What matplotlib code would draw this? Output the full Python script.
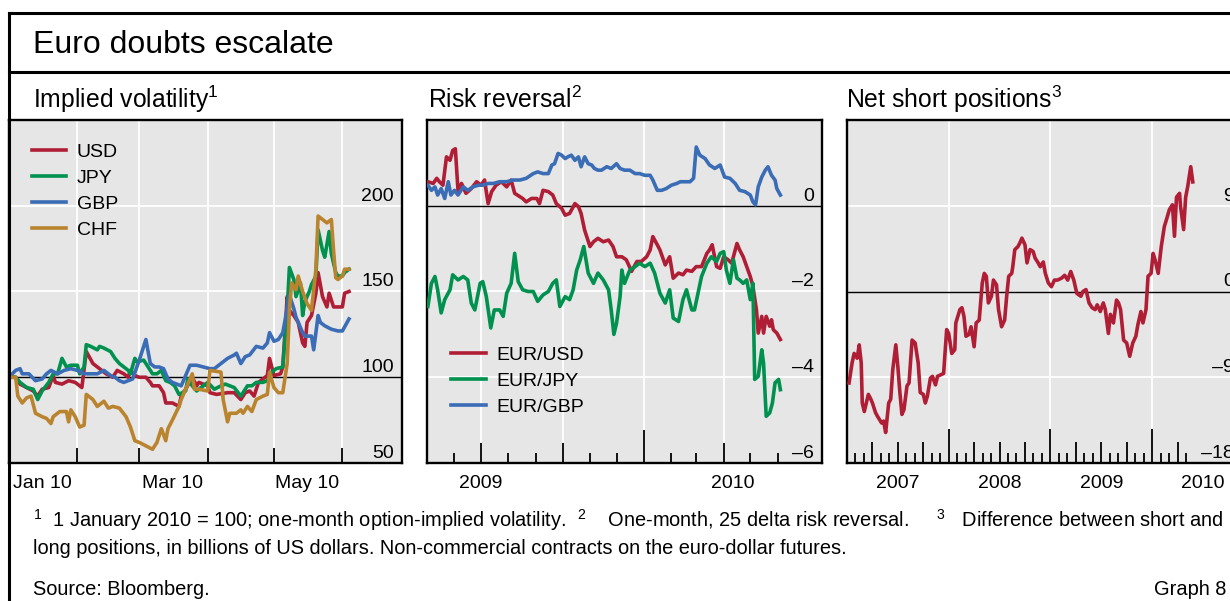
import numpy as np
import matplotlib
matplotlib.use("Agg")
import matplotlib.pyplot as plt
from matplotlib import transforms
from matplotlib.lines import Line2D

plt.rcParams.update({
    "font.family": ["Liberation Sans", "DejaVu Sans"],
    "mathtext.fontset": "custom",
    "mathtext.rm": "Liberation Sans",
    "mathtext.it": "Liberation Sans:italic",
    "mathtext.bf": "Liberation Sans:bold",
    "mathtext.default": "regular",
})

W, H = 1230, 601
RED, GREEN, BLUE, GOLD = "#b01e36", "#00914f", "#3a6db6", "#ba842f"
BG = "#e6e6e6"
LW = 2.6
FS = 14
FS_NOTE = 14.4

# ── Panel 1: implied volatility, days since 1 Jan 2010 ─────────
usd_d = [0,3,5,8,11,13,15,18,20,21,24,27,30,33,35,38,41,44,47,49,52,54,55,57,59,62,64,65,68,70,
         71,74,77,78,80,83,85,86,90,91,94,99,102,105,107,109,111,113,115,117,118,120,123,124,126,127,
         129,131,133,134,135,137,139,140,142,144,145,147,149,151,152,154]
usd_v = [100,100,96,94,92,89,93,94,101,97,96,98,97,94,115,108,105,102,100,104,102,100,104,101,100,100,
         97,95,95,91,85,85,83,89,93,100,95,97,95,91,90,91,91,87,91,92,89,97,99,101,111,101,102,106,147,
         139,136,132,120,118,132,136,149,161,147,141,149,141,141,141,149,150]
jpy_d = [0,3,5,8,11,13,15,18,20,22,24,26,28,31,32,34,35,37,40,41,43,46,48,50,52,54,55,57,58,61,
         63,65,67,69,71,73,75,77,80,81,83,85,86,90,93,96,98,102,105,108,110,112,115,117,119,121,124,
         126,127,129,130,132,133,134,136,137,139,140,142,143,145,146,148,149,151,152,154]
jpy_v = [100,100,97,94,93,87,92,97,102,102,111,106,107,107,102,106,119,118,116,118,117,115,111,108,106,
         104,102,111,109,110,106,102,102,104,98,97,95,90,92,99,95,92,93,97,93,95,96,94,89,95,95,97,97,
         98,103,105,106,139,164,157,147,155,136,144,150,154,159,186,174,170,185,172,161,159,159,161,163]
gbp_d = [0,3,5,6,9,12,15,17,19,22,25,28,31,34,37,40,43,46,48,50,52,54,56,59,62,64,66,68,70,72,
         74,78,80,82,85,88,91,93,96,99,102,103,105,107,109,112,115,117,118,120,122,124,126,127,129,
         130,133,134,137,138,140,141,143,146,149,151,154]
gbp_v = [100,104,105,102,102,98,99,102,104,102,104,105,104,102,102,102,104,101,100,98,97,98,99,110,122,
         108,106,106,105,99,97,95,101,107,107,106,105,105,108,111,113,114,108,112,113,118,117,120,126,
         121,122,126,140,148,140,135,126,124,124,116,136,132,130,128,127,127,134]
chf_d = [0,3,4,6,8,10,12,15,17,19,20,23,26,27,28,30,32,34,35,38,40,43,45,47,50,53,55,57,59,62,
         65,67,69,71,72,74,77,78,80,83,84,86,90,91,96,97,99,100,103,105,106,108,110,112,115,117,118,
         120,122,124,126,127,128,130,131,133,135,137,139,140,142,144,146,147,148,149,151,152,154]
chf_v = [100,100,89,85,88,89,79,77,76,73,77,80,80,74,81,77,71,72,90,87,83,86,82,83,82,77,71,63,62,60,
         58,62,70,63,70,75,83,87,93,102,93,93,92,104,103,87,74,79,79,81,79,83,80,87,89,90,103,94,91,91,
         108,139,155,151,159,150,143,139,163,194,192,190,192,174,158,157,159,163,163]

# ── Panel 2: risk reversal, days since 1 May 2009 ──────────────
eurusd_d = [1,7,11,14,18,22,26,29,32,35,39,44,50,56,61,65,69,73,78,84,90,95,99,105,108,112,118,124,
            127,131,137,142,146,152,156,161,167,171,174,178,184,188,193,199,205,210,214,220,225,231,
            237,242,248,252,255,260,263,269,274,278,284,289,293,299,304,310,316,319,322,327,331,335,
            340,344,350,353,357,361,365,368,372,374,378,380,383,387,389,391,395,399]
eurusd_v = [0.56,0.52,0.64,0.56,0.48,1.14,1.06,1.29,1.33,0.36,0.52,0.29,0.40,0.56,0.48,0.60,0.05,0.33,
            0.48,0.56,0.44,0.60,0.29,0.21,0.17,0.09,0.17,0.17,0.05,0.36,0.33,0.25,0.05,-0.06,-0.22,
            -0.18,0.05,-0.02,-0.18,-0.57,-0.95,-0.84,-0.76,-0.84,-0.80,-0.95,-1.19,-1.19,-1.26,-1.53,
            -1.30,-1.30,-1.19,-1.03,-0.72,-0.91,-1.03,-1.38,-1.19,-1.69,-1.57,-1.61,-1.50,-1.53,-1.42,
            -1.42,-1.11,-1.03,-0.91,-1.42,-1.46,-1.19,-1.26,-1.34,-0.88,-1.03,-1.19,-1.42,-1.65,-1.88,
            -2.43,-2.97,-2.58,-2.97,-2.58,-2.81,-2.66,-2.89,-2.97,-3.12]
eurjpy_d = [1,5,9,12,16,20,26,29,35,41,46,50,54,60,63,67,72,76,82,86,90,95,99,103,108,114,120,125,
            131,137,142,146,150,156,161,165,169,173,177,182,188,193,199,205,208,211,214,218,220,223,
            229,235,240,246,252,257,263,269,274,278,284,289,293,299,302,306,310,316,321,327,331,335,
            338,342,346,350,353,357,361,365,368,370,374,378,380,383,387,390,393,397,399]
eurjpy_v = [-2.35,-1.81,-1.65,-1.96,-2.50,-2.19,-1.96,-1.61,-1.73,-1.65,-1.73,-2.27,-2.43,-1.81,-1.77,
            -2.12,-2.85,-2.43,-2.43,-2.58,-2.04,-1.81,-1.11,-1.77,-1.96,-2.00,-2.00,-2.23,-2.08,-2.00,
            -1.81,-1.73,-2.35,-2.12,-2.19,-1.96,-1.50,-1.26,-0.95,-1.57,-1.81,-1.57,-1.73,-1.96,-2.43,
            -3.00,-2.74,-2.12,-1.50,-1.81,-1.50,-1.42,-1.34,-1.42,-1.34,-1.57,-2.04,-2.27,-1.96,-2.62,
            -2.70,-2.19,-1.96,-2.43,-2.43,-2.04,-1.65,-1.34,-1.19,-1.30,-1.11,-1.07,-1.50,-1.81,-1.26,
            -1.69,-1.73,-1.81,-1.73,-2.19,-1.81,-4.05,-3.98,-3.36,-3.67,-4.91,-4.83,-4.60,-4.13,-4.05,
            -4.29]
eurgbp_d = [1,5,9,12,16,20,24,27,31,35,41,46,52,58,63,69,75,82,90,97,105,112,120,125,131,137,141,144,
            148,152,156,159,163,167,171,174,178,182,186,189,193,197,203,208,214,218,223,229,235,240,
            246,252,255,260,265,270,276,282,286,291,297,301,304,308,314,319,325,331,336,342,348,353,
            359,365,368,371,374,378,382,385,389,393,395,399]
eurgbp_v = [0.48,0.36,0.44,0.25,0.40,0.17,0.56,0.25,0.36,0.25,0.44,0.36,0.44,0.48,0.48,0.52,0.52,0.56,
            0.56,0.60,0.60,0.64,0.75,0.79,0.75,0.75,0.95,0.98,1.22,1.18,1.10,1.14,1.18,1.06,1.14,0.91,
            1.14,0.98,0.95,0.87,0.83,0.83,0.91,0.87,0.98,0.87,0.83,0.83,0.75,0.75,0.71,0.71,0.60,0.36,
            0.36,0.40,0.48,0.52,0.56,0.56,0.56,0.64,1.37,1.18,1.10,0.95,0.87,0.95,0.67,0.64,0.52,0.36,
            0.33,0.25,0.09,0.02,0.44,0.67,0.83,0.91,0.71,0.60,0.40,0.25]

# ── Panel 3: net short positions (weekly, decimal years) ───────
ns_t = [2007.02,2007.05,2007.07,2007.10,2007.12,2007.14,2007.15,2007.17,2007.19,2007.21,2007.23,2007.25,
        2007.28,2007.30,2007.34,2007.36,2007.38,2007.41,2007.43,2007.45,2007.48,2007.50,2007.52,2007.54,
        2007.56,2007.59,2007.61,2007.64,2007.67,2007.70,2007.72,2007.75,2007.77,2007.79,2007.82,2007.84,
        2007.87,2007.89,2007.93,2007.95,2007.98,2008.00,2008.03,2008.06,2008.07,2008.11,2008.13,2008.15,
        2008.17,2008.20,2008.22,2008.25,2008.27,2008.30,2008.33,2008.35,2008.37,2008.39,2008.42,2008.44,
        2008.47,2008.49,2008.52,2008.55,2008.57,2008.59,2008.62,2008.63,2008.65,2008.68,2008.70,2008.72,
        2008.75,2008.77,2008.80,2008.83,2008.85,2008.88,2008.90,2008.93,2008.95,2008.98,2009.01,2009.04,
        2009.07,2009.11,2009.14,2009.17,2009.20,2009.23,2009.26,2009.30,2009.32,2009.35,2009.38,2009.41,
        2009.44,2009.46,2009.49,2009.52,2009.54,2009.57,2009.59,2009.62,2009.65,2009.67,2009.69,2009.72,
        2009.75,2009.78,2009.81,2009.84,2009.86,2009.89,2009.91,2009.94,2009.96,2009.99,2010.01,2010.03,
        2010.06,2010.09,2010.12,2010.14,2010.17,2010.20,2010.22,2010.24,2010.27,2010.28,2010.31,2010.33,
        2010.35,2010.38,2010.40]
ns_v = [-9.6,-7.5,-6.5,-7.0,-5.6,-7.5,-11.7,-12.6,-11.7,-10.8,-11.2,-11.7,-12.7,-13.1,-13.8,-13.6,-14.8,
        -11.7,-11.3,-8.2,-5.6,-7.9,-10.6,-12.9,-12.4,-9.9,-9.6,-5.1,-5.4,-7.5,-10.6,-10.8,-11.7,-11.0,
        -9.1,-8.9,-9.8,-8.9,-8.7,-8.6,-4.0,-4.4,-6.5,-6.1,-3.3,-1.9,-1.7,-2.6,-4.7,-4.5,-3.7,-5.8,-3.3,
        -3.0,0.9,1.9,1.6,-1.2,-0.5,1.2,0.7,-1.9,-3.7,-3.0,-0.5,1.6,1.9,2.6,4.4,4.7,5.1,5.6,4.9,3.0,4.4,
        4.2,3.5,3.0,2.6,3.1,1.9,0.9,0.5,1.2,1.2,1.4,1.7,1.2,2.1,1.2,-0.2,-0.5,0.0,0.2,-1.2,-1.7,-1.9,
        -1.4,-2.1,-1.2,-1.9,-4.4,-2.4,-3.3,-0.9,-1.2,-1.9,-5.1,-5.4,-6.8,-5.4,-4.7,-3.5,-2.1,-3.3,-1.9,
        1.6,1.9,4.0,3.3,1.9,4.7,6.8,7.5,8.6,9.1,5.8,9.9,10.3,8.9,6.5,9.9,11.0,13.1,11.5]

vol_ticks, vol_labels = [200, 150, 100, 50], ["200", "150", "100", "50"]
rr_ticks, rr_labels = [0, -2, -4, -6], ["0", "–2", "–4", "–6"]
ns_ticks, ns_labels = [9, 0, -9, -18], ["9", "0", "–9", "–18"]

footnote1 = (r"$^{1}$  1 January 2010 = 100; one-month option-implied volatility.  $^{2}$    One-month, "
             r"25 delta risk reversal.     $^{3}$   Difference between short and")
footnote2 = "long positions, in billions of US dollars. Non-commercial contracts on the euro-dollar futures."


def fx(px):
    return px / W


def fy(py):
    return 1 - py / H


def days_since(base, dates):
    return (np.array(dates, dtype="datetime64[D]") - np.datetime64(base)).astype(int)


fig = plt.figure(figsize=(W / 100, H / 100), dpi=100)

# frame
fig.add_artist(Line2D([fx(9), 1], [fy(13), fy(13)], color="black", lw=2.2))
fig.add_artist(Line2D([fx(9), 1], [fy(72), fy(72)], color="black", lw=2.2))
fig.add_artist(Line2D([fx(9), fx(9)], [fy(13), 0], color="black", lw=2.2))

fig.text(fx(33), fy(45), "Euro doubts escalate", fontsize=23, va="center")
for px, title in [(33, r"Implied volatility$^{1}$"), (428, r"Risk reversal$^{2}$"),
                  (846, r"Net short positions$^{3}$")]:
    fig.text(fx(px), fy(108), title, fontsize=17.8, va="baseline")

AX_H = 343
ax1 = fig.add_axes([fx(9), fy(463), 393 / W, AX_H / H])
ax2 = fig.add_axes([fx(427), fy(463), 395 / W, AX_H / H])
ax3 = fig.add_axes([fx(847), fy(463), 395 / W, AX_H / H])


def style(ax, ylim, yticks, ylabels, ref):
    ax.set_facecolor(BG)
    ax.set_ylim(*ylim)
    for s in ax.spines.values():
        s.set_linewidth(1.7)
    ax.set_yticks([])
    ax.tick_params(axis="x", length=0, labelsize=FS, pad=9)
    for v in yticks:
        if v != ref and v != ylim[0]:
            ax.axhline(v, color="white", lw=1.3, zorder=1)
    ax.axhline(ref, color="black", lw=1.0, zorder=2)
    tr = transforms.offset_copy(
        transforms.blended_transform_factory(ax.transAxes, ax.transData),
        fig=fig, x=-8, y=5, units="dots")
    for v, s in zip(yticks, ylabels):
        ax.text(1, v, s, transform=tr, ha="right", va="baseline", fontsize=FS)


def tick_marks(ax, xs, h_px):
    tr = transforms.blended_transform_factory(ax.transData, ax.transAxes)
    ax.vlines(xs, 0, h_px / AX_H, transform=tr, color="black", lw=1.3, zorder=4)


LEG = dict(frameon=False, fontsize=FS, handlelength=1.75, handletextpad=0.55,
           labelspacing=0.43, borderaxespad=0, borderpad=0)

# ── (1) implied volatility ────────────────────────────────────
style(ax1, (50, 250), vol_ticks, vol_labels, 100)
ax1.set_xlim(0, 178)
m1 = days_since("2010-01-01", np.arange("2010-02", "2010-07", dtype="datetime64[M]"))
for d in m1:
    ax1.axvline(d, color="white", lw=1.3, zorder=1)
tick_marks(ax1, m1, 15)
ax1.set_xticks(days_since("2010-01-01", ["2010-01-16", "2010-03-16", "2010-05-16"]),
               ["Jan 10", "Mar 10", "May 10"])
for d, v, c, lab in [(usd_d, usd_v, RED, "USD"), (jpy_d, jpy_v, GREEN, "JPY"),
                     (gbp_d, gbp_v, BLUE, "GBP"), (chf_d, chf_v, GOLD, "CHF")]:
    ax1.plot(d, v, color=c, lw=LW, label=lab, zorder=3, solid_joinstyle="round")
ax1.legend(loc="upper left", bbox_to_anchor=(0.058, 0.932), **LEG)

# ── (2) risk reversal ─────────────────────────────────────────
style(ax2, (-6, 2), rr_ticks, rr_labels, 0)
xmax2 = 446
ax2.set_xlim(0, xmax2)
m2 = np.arange("2009-06", "2010-07", dtype="datetime64[M]")
d2 = days_since("2009-05-01", m2)
mon2 = (m2.astype(int) % 12) + 1
for d, mo in zip(d2, mon2):
    if mo in (1, 4, 7, 10):
        ax2.axvline(d, color="white", lw=1.3, zorder=1)
    tick_marks(ax2, [d], 33 if mo == 1 else (20 if mo in (4, 7, 10) else 10))
jan10 = days_since("2009-05-01", ["2010-01-01"])[0]
ax2.set_xticks([days_since("2009-05-01", ["2009-07-01"])[0], (jan10 + xmax2) / 2], ["2009", "2010"])
for d, v, c, lab in [(eurusd_d, eurusd_v, RED, "EUR/USD"), (eurjpy_d, eurjpy_v, GREEN, "EUR/JPY"),
                     (eurgbp_d, eurgbp_v, BLUE, "EUR/GBP")]:
    ax2.plot(d, v, color=c, lw=LW, label=lab, zorder=3, solid_joinstyle="round")
ax2.legend(loc="upper left", bbox_to_anchor=(0.062, 0.34), **LEG)

# ── (3) net short positions ───────────────────────────────────
style(ax3, (-18, 18), ns_ticks, ns_labels, 0)
ax3.set_xlim(2007, 2010.884)
for k in range(1, 41):
    x = 2007 + k / 12
    if k % 12 == 0:
        ax3.axvline(x, color="white", lw=1.3, zorder=1)
    tick_marks(ax3, [x], 34 if k % 12 == 0 else (21 if k % 3 == 0 else 10))
ax3.set_xticks([2007.5, 2008.5, 2009.5, 2010.5], ["2007", "2008", "2009", "2010"])
ax3.plot(ns_t, ns_v, color=RED, lw=LW, zorder=3, solid_joinstyle="round")

# ── footnotes ─────────────────────────────────────────────────
fig.text(fx(33), fy(527), footnote1, fontsize=FS_NOTE, va="baseline")
fig.text(fx(33), fy(554), footnote2, fontsize=FS_NOTE, va="baseline")
fig.text(fx(33), fy(595), "Source: Bloomberg.", fontsize=FS_NOTE, va="baseline")
fig.text(fx(1226), fy(595), "Graph 8", fontsize=FS_NOTE, va="baseline", ha="right")

fig.savefig("out.png", dpi=100)
